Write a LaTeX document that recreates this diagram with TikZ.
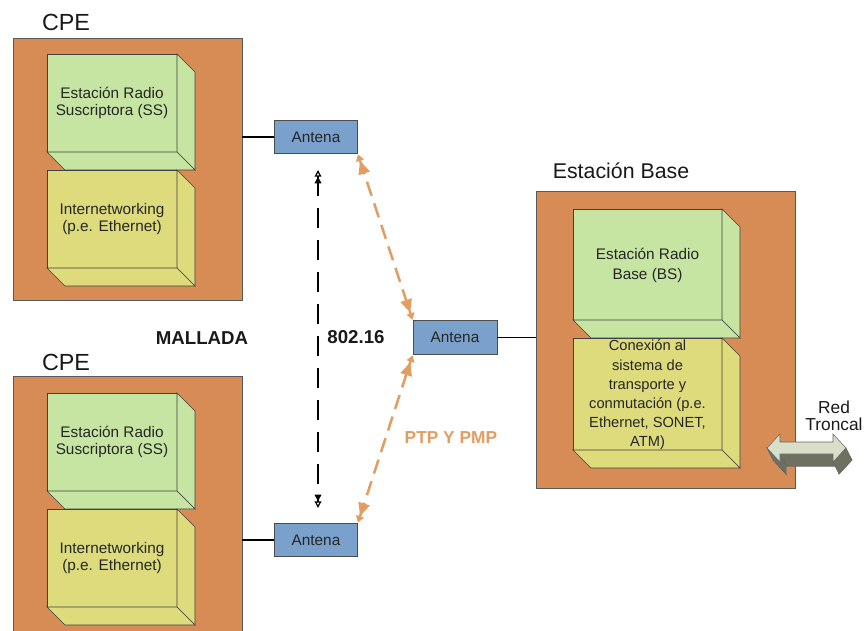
\documentclass[tikz,border=0pt]{standalone}
\usepackage{fontspec}
\setmainfont{Liberation Sans}
\usetikzlibrary{arrows.meta}
\definecolor{naranja}{RGB}{214,140,84}
\definecolor{verde}{RGB}{198,228,162}
\definecolor{amarillo}{RGB}{221,219,124}
\definecolor{azul}{RGB}{122,160,204}
\definecolor{ocre}{RGB}{226,158,98}
\definecolor{grisclaro}{RGB}{216,222,200}
\definecolor{grisoscuro}{RGB}{110,112,96}
\def\bloque[#1](#2,#3)(#4,#5){\filldraw[#1] (#2,#3) rectangle (#4,#5);
	\filldraw[#1] (#4,#3) -- ({#4+18},{#3+18}) -- ({#4+18},{#5+18}) -- (#4,#5) -- cycle;
	\filldraw[#1] (#2,#5) -- (#4,#5) -- ({#4+18},{#5+18}) -- ({#2+18},{#5+18}) -- cycle;}

\begin{document}
\begin{tikzpicture}[x=0.75pt,y=-0.75pt,
	caja/.style={draw=black!65,fill=naranja,line width=0.6pt,inner sep=0pt},
	antena/.style={draw=black!70,fill=azul,line width=0.6pt,minimum width=62pt,minimum height=24.5pt,inner sep=0pt,font=\fontsize{11.5}{13}\selectfont,text=black!85},
	titulo/.style={font=\fontsize{17.5}{20}\selectfont,text=black!90},
	texto/.style={align=center,font=\fontsize{11.5}{12.5}\selectfont,text=black!85},
	rotulo/.style={font=\bfseries\fontsize{14}{16}\selectfont,text=black!90},
	enlace/.style={line width=1.4pt},
	radio/.style={draw=ocre,line width=1.9pt,dash pattern=on 11pt off 6pt,
		{Triangle[length=5pt,width=6pt,sep=0.5pt]Triangle[length=10pt,width=8.5pt]}-{Triangle[length=10pt,width=8.5pt,sep=0.5pt]Triangle[length=5pt,width=6pt]}},
	malla/.style={line width=0.9pt,dash pattern=on 15pt off 9pt,
		{Triangle[open,length=5pt,width=5pt]Triangle[length=5pt,width=5pt]}-{Triangle[length=5pt,width=5pt]Triangle[open,length=5pt,width=5pt]}},
	blq/.style={draw=black!75,line width=0.5pt}]
	\clip (0,0) rectangle (867,631);
	
	%%%%% CPE de arriba %%%%%
	\node[titulo] (tCpeA) at (66,22) {CPE};
	\node[caja,minimum width=171.75pt,minimum height=196.5pt] (cpeA) at (127.5,169) {};
	\bloque[blq,fill=verde](47,54)(177,152);
	\bloque[blq,fill=amarillo](47,170)(177,268);
	\node[texto] (ssA) at (112,103) {Estación Radio\\Suscriptora (SS)};
	\node[texto] (inA) at (112,219) {Internetworking\\(p.e. Ethernet)};
	
	%%%%% CPE de abajo %%%%%
	\node[titulo] (tCpeB) at (66,362) {CPE};
	\node[caja,minimum width=171.75pt,minimum height=205.5pt] (cpeB) at (127.5,513) {};
	\bloque[blq,fill=verde](47,393)(177,491);
	\bloque[blq,fill=amarillo](47,509)(177,607);
	\node[texto] (ssB) at (112,442) {Estación Radio\\Suscriptora (SS)};
	\node[texto] (inB) at (112,558) {Internetworking\\(p.e. Ethernet)};
	
	%%%%% Estacion base %%%%%
	\node[titulo,font=\fontsize{16}{18}\selectfont] (tBase) at (621,171) {Estación Base};
	\node[caja,minimum width=194.25pt,minimum height=222.75pt] (base) at (665.5,339.5) {};
	\bloque[blq,fill=verde](573,209)(722,320);
	\bloque[blq,fill=amarillo](573,338)(722,450);
	\node[texto,font=\fontsize{11.5}{15}\selectfont] (bs) at (647.5,265) {Estación Radio\\Base (BS)};
	\node[texto,font=\fontsize{11}{14.4}\selectfont] (cx) at (647.5,395) {Conexión al\\sistema de\\transporte y\\conmutación (p.e.\\Ethernet, SONET,\\ATM)};
	
	%%%%% antenas %%%%%
	\node[antena] (antA) at (316,137) {Antena};
	\node[antena,minimum width=63pt,minimum height=26pt] (antB) at (455,337.5) {Antena};
	\node[antena] (antC) at (316,540) {Antena};
	
	\draw[enlace] (antA.west) -- (antA.west -| cpeA.east);
	\draw[enlace] (antC.west) -- (antC.west -| cpeB.east);
	\draw[enlace] (antB.east) -- (antB.east -| base.west);
	
	\draw[radio] (antA.south east) -- (antB.north west);
	\draw[radio] (antC.north east) -- (antB.south west);
	
	\coordinate (mA) at (318,170);
	\coordinate (mB) at (318,508);
	\draw[malla] (mA) -- (mB);
	
	\node[rotulo] (mallada) at (202,338) {MALLADA};
	\node[rotulo] (std) at (356,337) {802.16};
	\node[rotulo,text=ocre,font=\bfseries\fontsize{13}{15}\selectfont,anchor=west] (ptp) at (400,438) {PTP Y PMP};
	
	%%%%% red troncal %%%%%
	\filldraw[draw=black!60,fill=grisoscuro,line width=0.4pt,shift={(6,12)}] (767,448) -- (780,434) -- (780,442) -- (833,442) -- (833,434) -- (846,448) -- (833,462) -- (833,454) -- (780,454) -- (780,462) -- cycle;
	\filldraw[draw=black!60,fill=grisoscuro,line width=0.4pt] (780,454) -- (833,454) -- (839,466) -- (786,466) -- cycle;
	\filldraw[draw=black!60,fill=grisoscuro,line width=0.4pt] (846,448) -- (852,460) -- (839,474) -- (833,462) -- cycle;
	\filldraw[draw=black!60,fill=grisoscuro,line width=0.4pt] (767,448) -- (773,460) -- (786,474) -- (780,462) -- cycle;
	\filldraw[draw=black!60,fill=grisclaro,line width=0.4pt] (767,448) -- (780,434) -- (780,442) -- (833,442) -- (833,434) -- (846,448) -- (833,462) -- (833,454) -- (780,454) -- (780,462) -- cycle;
	\node[align=center,font=\fontsize{13}{13}\selectfont,text=black!90] (red) at (834,416) {Red\\Troncal};
	
\end{tikzpicture}
\end{document}
